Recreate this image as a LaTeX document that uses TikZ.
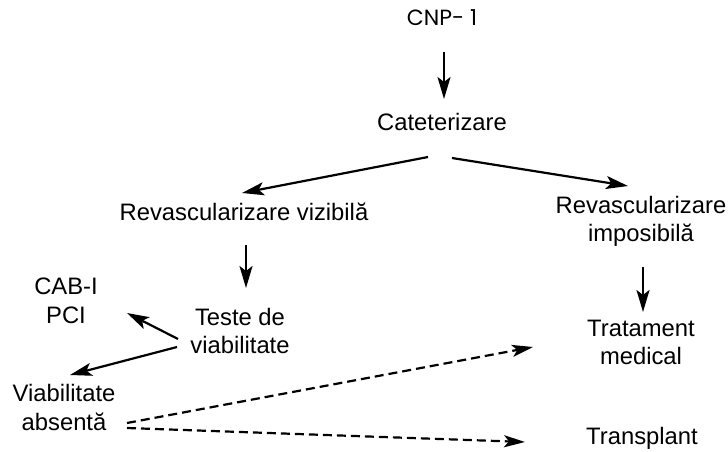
\documentclass[tikz,border=0pt]{standalone}
\usepackage{fontspec}
\setmainfont{Liberation Sans}
\newfontfamily\cnpfont{Poppins}
\usetikzlibrary{arrows.meta,calc}
\tikzset{
  lbl/.style={inner sep=0pt, align=center, font=\fontsize{23.8}{28.5}\selectfont},
  arr/.style={line width=2.2pt, -{Stealth[length=22pt,width=13pt,inset=5pt]}},
  darr/.style={line width=2.2pt, dash pattern=on 9pt off 5pt, -{Stealth[length=21pt,width=12pt,inset=5pt]}}
}
\begin{document}
\begin{tikzpicture}[x=1pt,y=-1pt]
\useasboundingbox (0,0) rectangle (728,452);
\node[lbl, font=\cnpfont\fontsize{22}{26}\selectfont] (cnp) at (442,18) {CNP- 1};
\node[lbl] (cat) at (442,122) {Cateterizare};
\node[lbl] (rv) at (244,212) {Revascularizare vizibilă};
\node[lbl] (ri) at (641,221.5) {Revascularizare\\imposibilă};
\node[lbl] (tv) at (240,331) {Teste de\\viabilitate};
\node[lbl] (cab) at (66,301) {CAB-I\\PCI};
\node[lbl] (va) at (64,407.5) {Viabilitate\\absentă};
\node[lbl] (tm) at (641,342.5) {Tratament\\medical};
\node[lbl] (tr) at (642,438) {Transplant};

\draw[arr] ($(cnp)+(2,34)$) -- ($(cat)+(2,-23)$);
\draw[arr] ($(cat)+(-14,35)$) -- ($(rv)+(-2,-19)$);
\draw[arr] ($(cat)+(10,36)$) -- ($(ri)+(-13,-35.5)$);
\draw[arr] ($(rv)+(2,33)$) -- ($(tv)+(6,-43)$);
\draw[arr] ($(ri)+(2,45.5)$) -- ($(tm)+(2,-30.5)$);
\draw[arr] ($(tv)+(-62,8)$) -- ($(cab)+(61,12)$);
\draw[arr] ($(tv)+(-63,16)$) -- ($(va)+(6,-32.5)$);
\draw[darr] ($(va)+(63,15.5)$) -- ($(tm)+(-108,4.5)$);
\draw[darr] ($(va)+(63,20.5)$) -- ($(tr)+(-117,4)$);
\end{tikzpicture}
\end{document}
